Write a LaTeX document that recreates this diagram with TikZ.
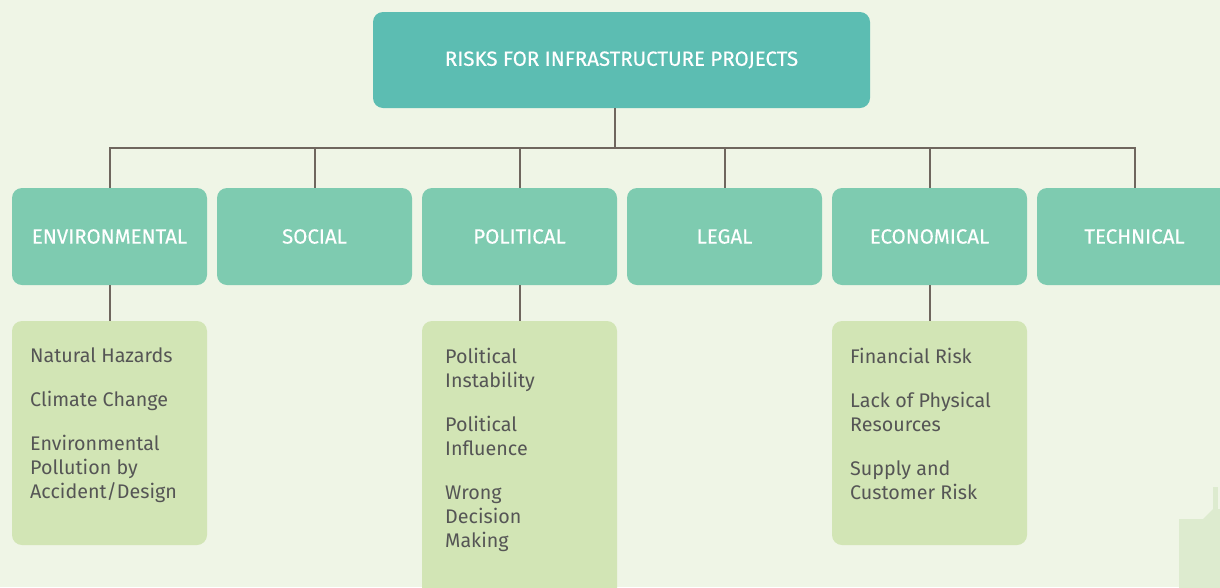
\documentclass[tikz,border=0pt]{standalone}
\usepackage{fontspec}
\setmainfont{Fira Sans}
\newfontfamily\headfont[FakeBold=0.35]{Fira Sans}
\definecolor{bgc}{HTML}{EFF5E6}
\definecolor{topc}{HTML}{5CBDB2}
\definecolor{midc}{HTML}{7ECBB0}
\definecolor{lowc}{HTML}{D2E5B5}
\definecolor{linec}{HTML}{6F665E}
\definecolor{txtc}{HTML}{555555}
\definecolor{ghostc}{HTML}{DDEBCF}
\tikzset{
  topbox/.style={fill=topc, rounded corners=10pt, minimum width=497pt, minimum height=96pt, inner sep=0pt, text=white, font=\headfont\fontsize{20.5}{24}\selectfont},
  catbox/.style={fill=midc, rounded corners=10pt, minimum width=195pt, minimum height=97pt, inner sep=0pt, text=white, font=\headfont\fontsize{20.5}{24}\selectfont},
  itembox/.style={fill=lowc, rounded corners=10pt, minimum width=195pt, inner sep=0pt},
  itemtext/.style={anchor=north west, inner sep=0pt, align=left, text=txtc, font=\fontsize{19.7}{24}\selectfont},
  conn/.style={draw=linec, line width=2pt}
}
\begin{document}
\begin{tikzpicture}[x=1pt,y=-1pt]
\useasboundingbox (0,0) rectangle (1220,587);
\fill[bgc] (0,0) rectangle (1220,587);
\begin{scope}
\clip (0,0) rectangle (1220,587);
% faint decoration bottom right
\fill[ghostc] (1179,519) rectangle (1221,588);
\fill[ghostc] (1203,519) -- (1213,509) -- (1221,509) -- (1221,519) -- cycle;
\fill[ghostc] (1213,487) rectangle (1218,509);

\node[topbox] (top) at (621.5,60) {RISKS FOR INFRASTRUCTURE PROJECTS};

\node[catbox] (env) at (109.5,236.5) {ENVIRONMENTAL};
\node[catbox] (soc) at (314.5,236.5) {SOCIAL};
\node[catbox] (pol) at (519.5,236.5) {POLITICAL};
\node[catbox] (leg) at (724.5,236.5) {LEGAL};
\node[catbox] (eco) at (929.5,236.5) {ECONOMICAL};
\node[catbox] (tec) at (1134.5,236.5) {TECHNICAL};

\node[itembox, minimum height=224pt] (envl) at (109.5,433) {};
\node[itembox, minimum height=290pt] (poll) at (519.5,466) {};
\node[itembox, minimum height=224pt] (ecol) at (929.5,433) {};

\node[itemtext] (envt) at (30,347.5) {Natural Hazards\\[20pt]Climate Change\\[20pt]Environmental\\Pollution by\\Accident/Design};
\node[itemtext] (polt) at (445,347.5) {Political\\Instability\\[20pt]Political\\Influence\\[20pt]Wrong\\Decision\\Making};
\node[itemtext] (ecot) at (850,347.5) {Financial Risk\\[20pt]Lack of Physical\\Resources\\[20pt]Supply and\\Customer Risk};

\coordinate (tj) at (615,148);
\draw[conn] (top.south -| tj) -- (tj);
\foreach \c in {env,soc,pol,leg,eco,tec}{
  \draw[conn] (tj) -| (\c.north);
}
\draw[conn] (env.south) -- (envl.north);
\draw[conn] (pol.south) -- (poll.north);
\draw[conn] (eco.south) -- (ecol.north);
\end{scope}
\end{tikzpicture}
\end{document}
